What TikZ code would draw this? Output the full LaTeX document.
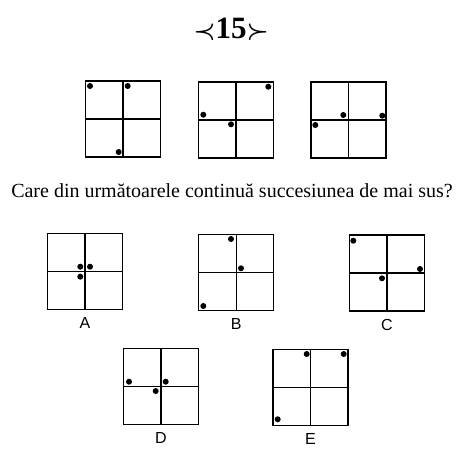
\documentclass[tikz,border=0pt]{standalone}
\usepackage{amsmath}
\usepackage{fontspec}
\setmainfont{Liberation Serif}
\setsansfont{Liberation Sans}
\usetikzlibrary{positioning}

\begin{document}
\begin{tikzpicture}[
    x=1pt, y=-1pt,
    panel/.style={rectangle, draw, line width=1.4pt, minimum width=75pt, minimum height=76pt, inner sep=0pt},
    divider/.style={line width=1.4pt},
    spot/.style={circle, fill, inner sep=0pt, minimum size=6pt},
    letter/.style={font=\sffamily\fontsize{16}{16}\selectfont},
    question/.style={font=\fontsize{20}{24}\selectfont, inner sep=0pt}
]
    \useasboundingbox (0,0) rectangle (470,463);

    % title and question
    \node[font=\fontsize{31}{34}\selectfont\bfseries] (title) at (231,29) {$\boldsymbol{\prec}$15$\boldsymbol{\succ}$};
    \node[question] (ask) at (232,191) {Care din următoarele continuă succesiunea de mai sus?};

    % the given sequence
    \node[panel] (s1) at (122.8,119) {};
    \node[panel] (s2) at (235.8,120) {};
    \node[panel] (s3) at (348.5,119.8) {};

    % the answers
    \node[panel] (pa) at (85,271.3) {};
    \node[panel] (pb) at (236.2,272.2) {};
    \node[panel] (pc) at (386.8,273) {};
    \node[panel] (pd) at (160.8,386.3) {};
    \node[panel] (pe) at (310.5,387.2) {};

    \node[letter, below=4pt of pa] (la) {A};
    \node[letter, below=4pt of pb] (lb) {B};
    \node[letter, below=4pt of pc] (lc) {C};
    \node[letter, below=4pt of pd] (ld) {D};
    \node[letter, below=4pt of pe] (le) {E};

    % cross lines inside every panel
    \foreach \p in {s1,s2,s3,pa,pb,pc,pd,pe} {
        \draw[divider] (\p.north) -- (\p.south);
        \draw[divider] (\p.west) -- (\p.east);
    }

    % dots
    \foreach \x/\y in {90/86, 127.7/86, 118.7/152,
                       268.3/86.7, 203.3/114.7, 231/124.3,
                       343.3/115, 382.3/115.7, 315.3/125,
                       80.3/266.7, 90/266.7, 80.3/276.7,
                       231/239, 241/268.3, 203.3/306,
                       353.3/240.7, 420/269, 382/278.3,
                       129/381.7, 165.7/381.7, 155.7/391,
                       306.7/354, 343.7/354, 277.7/419.3}
        \node[spot] at (\x,\y) {};
\end{tikzpicture}
\end{document}
